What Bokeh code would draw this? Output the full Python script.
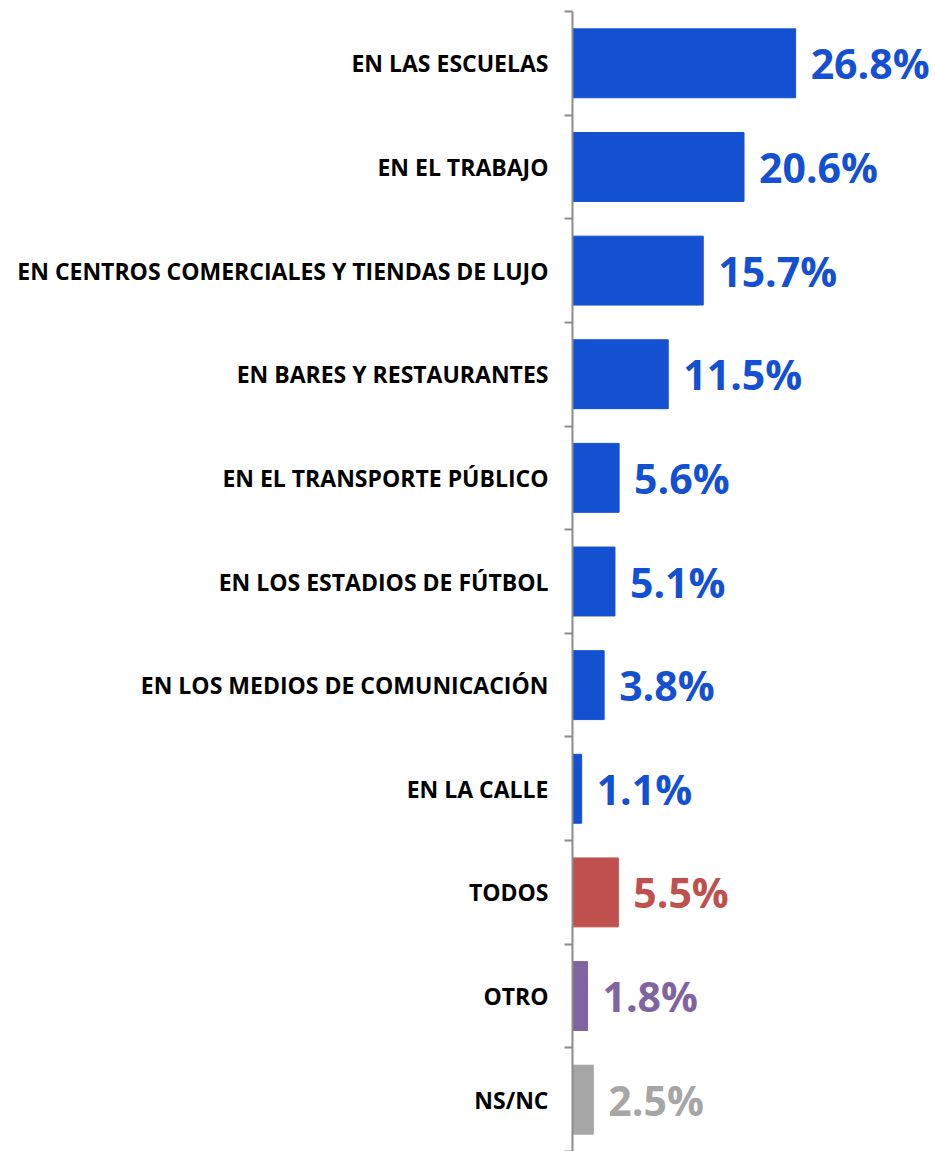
from bokeh.plotting import figure
from bokeh.models import ColumnDataSource, FixedTicker, Range1d
from bokeh.core.properties import value
from bokeh.embed import file_html
from bokeh.resources import INLINE

categories = ["EN LAS ESCUELAS", "EN EL TRABAJO", "EN CENTROS COMERCIALES Y TIENDAS DE LUJO",
              "EN BARES Y RESTAURANTES", "EN EL TRANSPORTE PÚBLICO", "EN LOS ESTADIOS DE FÚTBOL",
              "EN LOS MEDIOS DE COMUNICACIÓN", "EN LA CALLE", "TODOS", "OTRO", "NS/NC"]
values = [26.8, 20.6, 15.7, 11.5, 5.6, 5.1, 3.8, 1.1, 5.5, 1.8, 2.5]
colors = ["#1450D2"] * 8 + ["#C0504D", "#8064A2", "#A6A6A6"]

n = len(categories)
ypos = [n - 1 - i for i in range(n)]
labels = [f"{v:.1f}%" for v in values]

src = ColumnDataSource(dict(y=ypos, v=values, c=colors, lab=labels))

p = figure(width=935, height=1151, output_backend="svg", toolbar_location=None,
           x_range=Range1d(0, 43.6), y_range=Range1d(-0.5, n - 0.5),
           min_border_left=572, min_border_right=0, min_border_top=11, min_border_bottom=0)
p.outline_line_color = None
p.grid.visible = False
p.xaxis.visible = False

p.hbar(y="y", right="v", left=0, height=0.665, color="c", source=src)
p.text(x="v", y="y", text="lab", text_color="c", x_offset=15, y_offset=0, text_baseline="middle",
       text_align="left", text_font=value("Open Sans"), text_font_style="bold",
       text_font_size="41px", source=src)

ya = p.yaxis[0]
ya.ticker = FixedTicker(ticks=ypos, minor_ticks=[i - 0.5 for i in range(n + 1)])
ya.major_label_overrides = {y: c for y, c in zip(ypos, categories)}
ya.major_tick_line_color = None
ya.major_tick_out = 0
ya.major_tick_in = 0
ya.minor_tick_out = 8
ya.minor_tick_in = 0
ya.minor_tick_line_color = "#8C8C8C"
ya.minor_tick_line_width = 2
ya.axis_line_color = "#8C8C8C"
ya.axis_line_width = 2
ya.major_label_standoff = 16
ya.major_label_text_font = "Open Sans"
ya.major_label_text_font_style = "bold"
ya.major_label_text_font_size = "23px"
ya.major_label_text_color = "#000000"

open("out.html", "w").write(file_html(p, INLINE))
